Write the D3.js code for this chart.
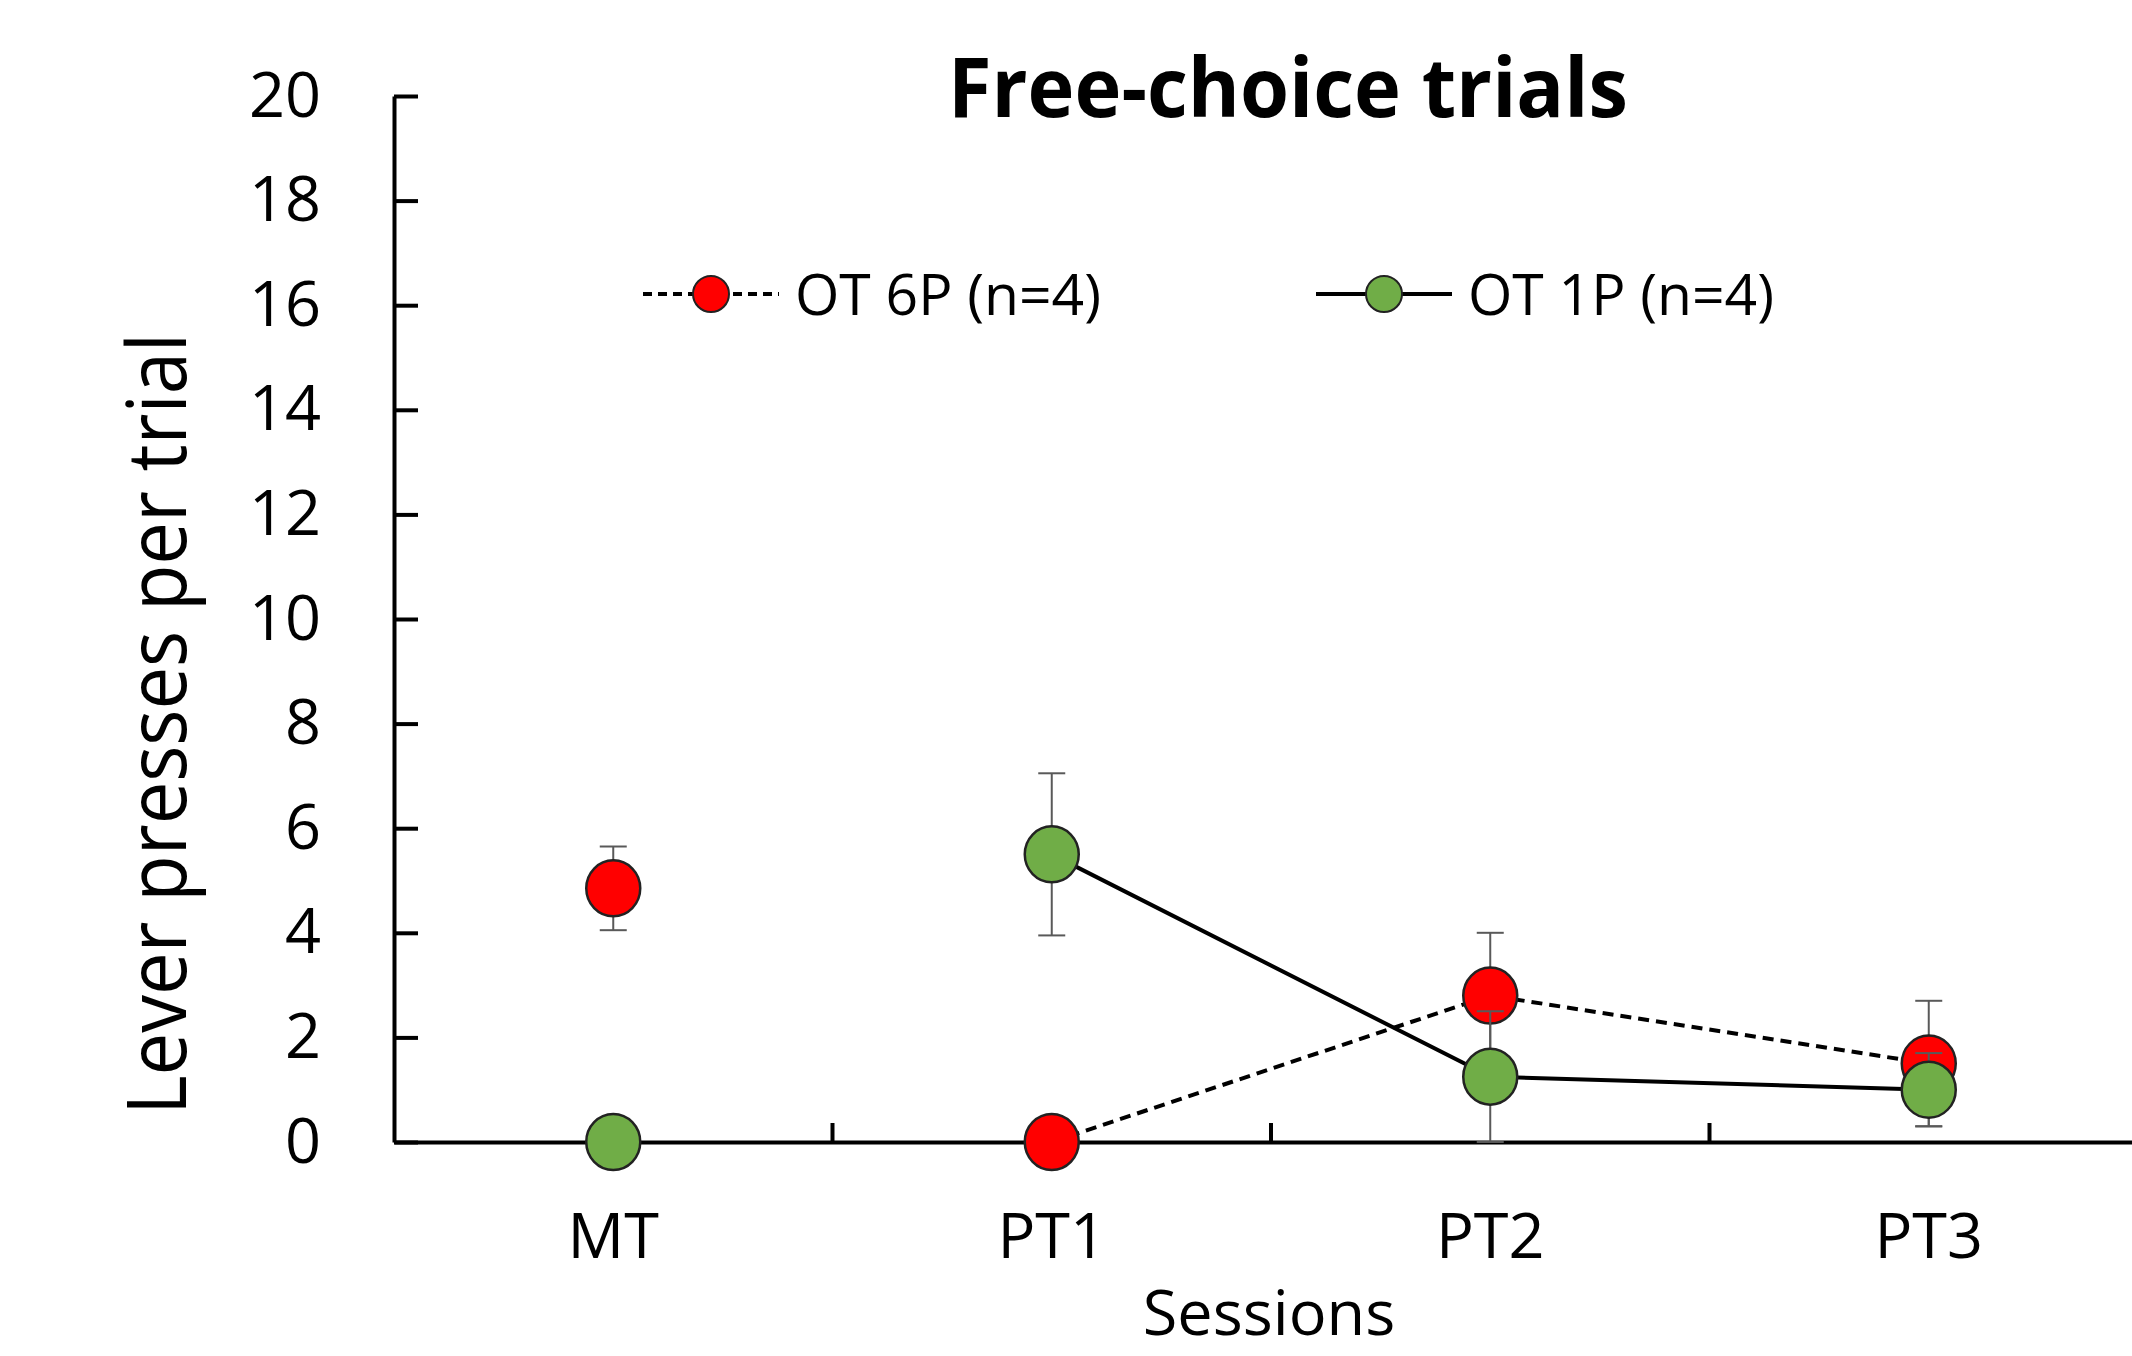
<!DOCTYPE html>
<html>
<head>
<meta charset="utf-8">
<script src="https://cdn.jsdelivr.net/npm/d3@7"></script>
<style>
  body { margin: 0; background: #fff; }
  text { font-family: "Open Sans", sans-serif; fill: #000; }
</style>
</head>
<body>
<div class="chart"></div>
<script>
// data
var sessions = ["MT", "PT1", "PT2", "PT3"];
var joined = ["PT1", "PT2", "PT3"];   // sessions connected by a line

var ot6pMean = [4.85, 0, 2.8, 1.5];
var ot6pSem  = [0.8, 0, 1.2, 1.2];
var ot1pMean = [0, 5.5, 1.25, 1.0];
var ot1pSem  = [0, 1.55, 1.25, 0.7];

var yTicks = [0, 2, 4, 6, 8, 10, 12, 14, 16, 18, 20];

var seriesNames = ["OT 6P (n=4)", "OT 1P (n=4)"];

var svgWidth = 2132;
var svgHeight = 1356;

var margin = { top: 96, left: 394, bottom: 214 };
var plotBottom = svgHeight - margin.bottom;   // y = 0 line

var svg = d3.select(".chart")
  .append("svg")
  .attr("width", svgWidth)
  .attr("height", svgHeight);

var x = d3.scaleBand()
  .domain(sessions)
  .range([margin.left, margin.left + 4 * 438.5])
  .padding(0);

var y = d3.scaleLinear()
  .domain([0, 20])
  .range([plotBottom, margin.top]);

var series = [
  { name: seriesNames[0], mean: ot6pMean, sem: ot6pSem, fill: "#ff0000", dash: "11,7" },
  { name: seriesNames[1], mean: ot1pMean, sem: ot1pSem, fill: "#70ad47", dash: null }
];

// y axis, ticks point inward
var leftAxis = d3.axisLeft(y)
  .tickValues(yTicks)
  .tickSizeInner(-24)
  .tickSizeOuter(0)
  .tickPadding(73);

var yAxisG = svg.append("g")
  .attr("transform", `translate(${margin.left},0)`)
  .call(leftAxis);
yAxisG.select(".domain").attr("stroke", "#000").attr("stroke-width", 4);
yAxisG.selectAll(".tick line").attr("stroke", "#000").attr("stroke-width", 4);
yAxisG.selectAll(".tick text")
  .style("font-family", "'Open Sans', sans-serif")
  .style("font-size", "63px")
  .attr("fill", "#000");

// x axis, labels in the middle of each band, ticks on band edges
var bottomAxis = d3.axisBottom(x)
  .tickSize(0)
  .tickPadding(71);

var xAxisG = svg.append("g")
  .attr("transform", `translate(0,${plotBottom})`)
  .call(bottomAxis);
xAxisG.select(".domain").attr("stroke", "#000").attr("stroke-width", 4);
xAxisG.selectAll(".tick text")
  .style("font-family", "'Open Sans', sans-serif")
  .style("font-size", "63px")
  .attr("fill", "#000");

xAxisG.selectAll(".band-tick")
  .data(sessions.slice(1))
  .enter()
  .append("line")
  .attr("x1", d => x(d))
  .attr("x2", d => x(d))
  .attr("y1", 0)
  .attr("y2", -19)
  .attr("stroke", "#000")
  .attr("stroke-width", 4);

var cx = d => x(d) + x.bandwidth() / 2;

// connecting lines
var line = d3.line()
  .defined(d => joined.indexOf(d.session) >= 0)
  .x(d => cx(d.session))
  .y(d => y(d.value));

series.forEach(function(s) {
  var pts = sessions.map((c, i) => ({ session: c, value: s.mean[i], sem: s.sem[i] }));
  s.pts = pts;
  svg.append("path")
    .datum(pts)
    .attr("d", line)
    .attr("fill", "none")
    .attr("stroke", "#000")
    .attr("stroke-width", 4)
    .attr("stroke-dasharray", s.dash);
});

// error bars + markers, one series after the other
series.forEach(function(s) {
  var g = svg.append("g");
  var bars = g.selectAll(".err")
    .data(s.pts.filter(d => d.sem > 0))
    .enter()
    .append("g")
    .attr("stroke", "#595959")
    .attr("stroke-width", 2);

  bars.append("line")
    .attr("x1", d => cx(d.session))
    .attr("x2", d => cx(d.session))
    .attr("y1", d => y(d.value - d.sem))
    .attr("y2", d => y(d.value + d.sem));
  bars.append("line")
    .attr("x1", d => cx(d.session) - 13.5)
    .attr("x2", d => cx(d.session) + 13.5)
    .attr("y1", d => y(d.value + d.sem))
    .attr("y2", d => y(d.value + d.sem));
  bars.append("line")
    .attr("x1", d => cx(d.session) - 13.5)
    .attr("x2", d => cx(d.session) + 13.5)
    .attr("y1", d => y(d.value - d.sem))
    .attr("y2", d => y(d.value - d.sem));

  g.selectAll("ellipse")
    .data(s.pts)
    .enter()
    .append("ellipse")
    .attr("cx", d => cx(d.session))
    .attr("cy", d => y(d.value))
    .attr("rx", 27)
    .attr("ry", 28)
    .attr("fill", s.fill)
    .attr("stroke", "#222")
    .attr("stroke-width", 2.5);
});

// title
svg.append("text")
  .attr("x", 1288)
  .attr("y", 117)
  .attr("text-anchor", "middle")
  .style("font-size", "83px")
  .style("font-weight", "bold")
  .attr("textLength", 680)
  .attr("lengthAdjust", "spacingAndGlyphs")
  .text("Free-choice trials");

// axis titles
svg.append("text")
  .attr("transform", "translate(186,724) rotate(-90)")
  .attr("text-anchor", "middle")
  .style("font-size", "82px")
  .attr("textLength", 782)
  .attr("lengthAdjust", "spacingAndGlyphs")
  .text("Lever presses per trial");

svg.append("text")
  .attr("x", 1269)
  .attr("y", 1335)
  .attr("text-anchor", "middle")
  .style("font-size", "63px")
  .text("Sessions");

// legend
var legendX = [643, 1316];
var legend = svg.selectAll(".legend")
  .data(series)
  .enter()
  .append("g")
  .attr("transform", (d, i) => `translate(${legendX[i]},294)`);

legend.append("line")
  .attr("x1", 0)
  .attr("x2", 136)
  .attr("stroke", "#000")
  .attr("stroke-width", 4)
  .attr("stroke-dasharray", d => d.dash ? "9,6" : null);

legend.append("ellipse")
  .attr("cx", 68)
  .attr("rx", 18)
  .attr("ry", 18)
  .attr("fill", d => d.fill)
  .attr("stroke", "#222")
  .attr("stroke-width", 2);

legend.append("text")
  .attr("x", 152)
  .attr("y", 21)
  .style("font-size", "57px")
  .attr("textLength", 306)
  .attr("lengthAdjust", "spacingAndGlyphs")
  .text(d => d.name);
</script>
</body>
</html>
